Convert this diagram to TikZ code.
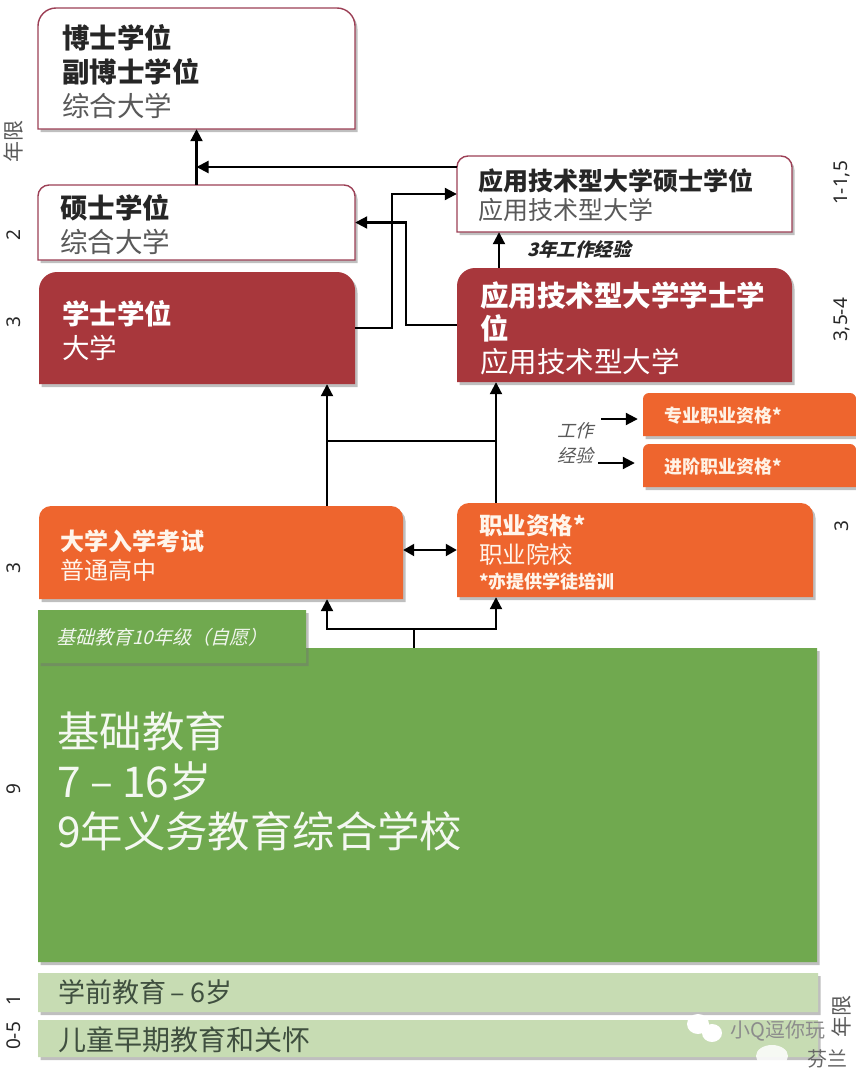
\documentclass[tikz,border=0pt]{standalone}
\usepackage{fontspec}
\setmainfont{Noto Sans CJK SC}
\newfontfamily\slantcjk[FakeSlant=0.25]{Noto Sans CJK SC}
\newfontfamily\latinsans{Noto Sans}
\usetikzlibrary{arrows.meta,shadows,calc}
\definecolor{edgered}{HTML}{9C3F55}
\definecolor{brick}{HTML}{A8373C}
\definecolor{tangerine}{HTML}{EE652E}
\definecolor{leaf}{HTML}{70A94F}
\definecolor{palegreen}{HTML}{C7DCB3}
\definecolor{inkdark}{HTML}{262626}
\definecolor{inkgrey}{HTML}{595959}
\definecolor{inkgreen}{HTML}{3F4F3F}
\newcommand{\fs}[2]{\fontsize{#1}{#2}\selectfont}
\newcommand{\lc}[1]{\leavevmode\color{#1}}
\newcommand{\dn}[1]{\vspace*{-#1pt}}
% style, name, x1, y1, x2, y2, radius, inset, text
\newcommand{\tbox}[9]{%
  \pgfmathsetmacro{\xa}{#3}\pgfmathsetmacro{\ya}{#4}\pgfmathsetmacro{\xb}{#5}\pgfmathsetmacro{\yb}{#6}%
  \pgfmathsetmacro{\ymid}{(\ya+\yb)/2}\pgfmathsetmacro{\xmid}{(\xa+\xb)/2}%
  \pgfmathsetmacro{\boxw}{\xb-\xa}\pgfmathsetmacro{\boxh}{\yb-\ya}\pgfmathsetmacro{\textw}{\boxw-2*#8}%
  \path[#1] (\xa,\yb) [rounded corners=#7pt] -- (\xa,\ya) -- (\xb,\ya) -- (\xb,\ymid) [sharp corners] -- (\xb,\yb) -- cycle;%
  \node[boxtext,minimum width=\boxw pt,minimum height=\boxh pt,text width=\textw pt] (#2) at (\xmid,\ymid) {#9\par};%
}
\tikzset{
  x=1pt,y=-1pt,
  boxtext/.style={inner sep=0pt,align=left,anchor=center},
  softshadow/.style={drop shadow={shadow xshift=2.5pt,shadow yshift=-3pt,opacity=.45,fill=black!55}},
  whitecard/.style={fill=white,draw=edgered,line width=1.4pt,softshadow},
  brickcard/.style={fill=brick,softshadow},
  orangecard/.style={fill=tangerine,softshadow},
  greencard/.style={fill=leaf,softshadow},
  palecard/.style={fill=palegreen,softshadow},
  conn/.style={draw=black,line width=2.1pt},
  arrowconn/.style={conn,-{Triangle[length=12pt,width=12pt]}},
  bothconn/.style={conn,{Triangle[length=11pt,width=12pt]}-{Triangle[length=11pt,width=12pt]}},
  yearlabel/.style={rotate=90,font=\latinsans\fs{19}{20},text=inkdark,inner sep=0pt},
  yearcjk/.style={rotate=90,font=\fs{21}{22},text=inkgrey,inner sep=0pt},
  notelabel/.style={font=\slantcjk\fs{18}{25},text=inkgrey,inner sep=0pt,align=center},
  markwhite/.style={inner sep=0pt},
}
\begin{document}
\begin{tikzpicture}
\useasboundingbox (0,0) rectangle (856,1068);
\fill[white] (0,0) rectangle (856,1068);

\tbox{whitecard}{doctor}{38}{8}{355}{129}{18}{24}{\fs{27.5}{34}\lc{inkdark}\textbf{博士学位}\\\textbf{副博士学位}\\\lc{inkgrey}综合大学\dn{6}}
\tbox{whitecard}{master}{38}{185}{355}{260}{11}{22}{\fs{27.5}{34}\lc{inkdark}\textbf{硕士学位}\\\lc{inkgrey}综合大学\dn{5}}
\tbox{brickcard}{bachelor}{39}{272}{355}{384}{18}{23}{\fs{27.5}{34}\lc{white}\textbf{学士学位}\\大学\dn{6}}
\tbox{whitecard}{amaster}{457}{156}{792}{232}{11}{21}{\fs{25}{29}\lc{inkdark}\textbf{应用技术型大学硕士学位}\\\lc{inkgrey}应用技术型大学\dn{2}}
\tbox{brickcard}{abach}{457}{268}{792}{382}{18}{23}{\fs{28.5}{33}\lc{white}\textbf{应用技术型大学学士学}\\\textbf{位}\\应用技术型大学\dn{7}}
\tbox{orangecard}{prof}{643}{393}{856}{436}{6}{21}{\fs{18}{20}\lc{white!90!orange}\textbf{专业职业资格*}\dn{4}}
\tbox{orangecard}{adv}{643}{444}{856}{487}{6}{21}{\fs{18}{20}\lc{white!90!orange}\textbf{进阶职业资格*}\dn{2}}
\tbox{orangecard}{entrance}{39}{506}{403}{599}{12}{21}{\fs{24}{29}\lc{white!92!orange}\textbf{大学入学考试}\\普通高中\dn{6}}
\tbox{orangecard}{voc}{457}{503}{813}{597}{12}{22}{\lc{white!92!orange}\fs{23.5}{29}\textbf{职业资格*}\\职业院校\\\leavevmode\fs{18}{25}\textbf{*亦提供学徒培训}\dn{5}}
\tbox{greencard}{basic}{38}{648}{817}{962}{0}{19}{\strut}
\tbox{greencard}{grade}{38}{610}{306}{663}{0}{18}{\slantcjk\fs{19}{22}\lc{white!90!leaf}基础教育10年级（自愿）\dn{2}}
\tbox{palecard}{pre}{38}{973}{818}{1012}{0}{20}{\fs{27}{32}\lc{inkgreen}学前教育\hspace{5pt}–\hspace{5pt}6岁}
\tbox{palecard}{early}{38}{1020}{818}{1057}{0}{20}{\fs{28}{32}\lc{inkgreen}儿童早期教育和关怀\dn{2}}

\node[anchor=north west,inner sep=0pt,align=left,text=white!92!leaf,font=\fs{42.4}{50}] (basictext) at (57,711) {基础教育\\7 – 16岁\\9年义务教育综合学校};

% connectors
\draw[arrowconn] (master.north) -- (doctor.south);
\coordinate (amin) at ([yshift=27pt]amaster.west);
\draw[arrowconn] (amin) -- (amin -| master.north);
\draw[arrowconn] (bachelor.east) -- ++(37,0) |- (amaster.west);
\draw[arrowconn] (abach.west) -- ++(-51,0) |- (master.east);
\coordinate (aup) at ([xshift=-125.5pt]abach.north);
\draw[arrowconn] (aup) -- (aup |- amaster.south);
\coordinate (entup) at ([xshift=106pt]entrance.north);
\coordinate (vocup) at ([xshift=-139pt]voc.north);
\draw[arrowconn] (entup) -- (entup |- bachelor.south);
\draw[arrowconn] (vocup) -- (vocup |- abach.south);
\coordinate (crossy) at (0,441);
\draw[conn] (entup |- crossy) -- (vocup |- crossy);
\draw[bothconn] (voc.west -| entrance.east) -- (voc.west);
\coordinate (forkbase) at ([xshift=-13.5pt]basic.north);
\coordinate (fork) at ([yshift=19pt]forkbase);
\draw[conn] (forkbase) -- (fork);
\draw[arrowconn] (fork) -- (fork -| entup) -- (entup |- entrance.south);
\draw[arrowconn] (fork) -- (fork -| vocup) -- (vocup |- voc.south);
\coordinate (worka) at (601,419);
\coordinate (workb) at (598,463);
\draw[arrowconn] (worka) -- ([xshift=-5pt]worka -| prof.west);
\draw[arrowconn] (workb) -- ([xshift=-8pt]workb -| adv.west);

% labels
\node[font=\slantcjk\fs{18.5}{20},text=inkdark,inner sep=0pt,anchor=west] (threeyr) at (527,249) {\textbf{3年工作经验}};
\node[notelabel] (worklabel) at (575,443) {工作\\经验};
\node[yearcjk] (yl) at (13,141) {年限};
\node[yearlabel] (y2) at (14,235) {2};
\node[yearlabel] (y3a) at (14,322) {3};
\node[yearlabel] (y3b) at (14,568) {3};
\node[yearlabel] (y9) at (14,789) {9};
\node[yearlabel] (y1) at (14,1000) {1};
\node[yearlabel] (y05) at (14,1036) {0-5};
\node[yearlabel] (r1) at (842,183) {1-1,5};
\node[yearlabel] (r35) at (842,320) {3,5-4};
\node[yearlabel] (r3) at (842,526) {3};
\node[yearcjk] (yr) at (841,1016) {年限};

% watermark
\fill[white] (698,1024) ellipse (11 and 10);
\fill[white] (712,1033) ellipse (10 and 9);
\fill[white,opacity=.85] (772,1056) ellipse (16 and 11);
\node[markwhite,text=black!45,font=\fs{20}{22}] (wm1) at (778,1031) {小Q逗你玩};
\node[markwhite,text=black!60,font=\fs{20}{22}] (wm2) at (827,1059) {芬兰};
\end{tikzpicture}
\end{document}
